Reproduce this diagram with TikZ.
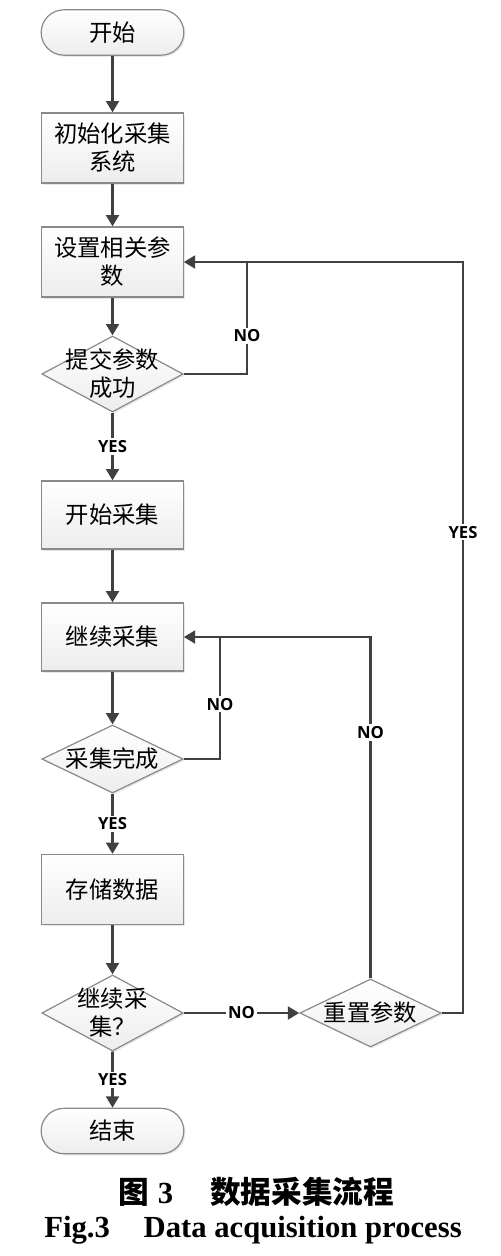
\documentclass[tikz,border=0pt]{standalone}
\usepackage{fontspec}
\setmainfont{Liberation Serif}
\newfontfamily\cjk{Noto Sans CJK SC}
\newfontfamily\lblfont{Open Sans}
\usetikzlibrary{arrows.meta,shapes.geometric,shapes.misc,shadows}

\definecolor{linegray}{HTML}{404040}
\definecolor{edgegray}{HTML}{8A8A8A}

\tikzset{
  base/.style={draw=edgegray, line width=0.9pt, top color=white, bottom color=gray!14,
    drop shadow={shadow xshift=1.2pt, shadow yshift=-1.2pt, fill=gray!35},
    font=\cjk\fontsize{17.5}{21}\selectfont, align=center, inner sep=0pt},
  term/.style={base, rounded rectangle, minimum width=107pt, minimum height=34pt},
  proc/.style={base, rectangle, minimum width=106pt, minimum height=52.5pt},
  decide/.style={base, diamond, minimum width=106pt, minimum height=57pt},
  dtext/.style={font=\cjk\fontsize{17.5}{21}\selectfont, align=center, inner sep=0pt},
  lbl/.style={fill=white, inner sep=1.5pt, font=\lblfont\bfseries\fontsize{12.5}{14}\selectfont},
  flow/.style={draw=linegray, line width=2.2pt}
}

\begin{document}
\begin{tikzpicture}[x=0.75pt, y=-0.75pt, >={Triangle[length=8.5pt,width=9.5pt]}]
\useasboundingbox (0,0) rectangle (500,1256);

% boxes
\node[term] (start) at (112.5,32.5) {开始};
\node[proc, minimum height=52.5pt] (init) at (112.5,148) {初始化采集\\系统};
\node[proc] (param) at (112.5,262) {设置相关参\\数};
\node[decide, label={[dtext]center:提交参数\\成功}] (submit) at (112.5,374) {};
\node[proc, minimum height=51pt] (begin) at (112.5,515) {开始采集};
\node[proc, minimum height=51pt] (cont) at (112.5,637) {继续采集};
\node[decide, minimum height=51pt, label={[dtext]center:采集完成}] (done) at (112.5,759) {};
\node[proc] (store) at (112.5,889.5) {存储数据};
\node[decide, label={[dtext]center:继续采\\集？}] (again) at (112.5,1013) {};
\node[decide, minimum height=51pt, label={[dtext]center:重置参数}] (reset) at (370.5,1013) {};
\node[term] (stop) at (112.5,1131) {结束};

\coordinate (j1) at (247,262);
\coordinate (j2) at (463,262);
\coordinate (j3) at (220,637);

% main flow
\draw[flow,->] (start) -- (init);
\draw[flow,->] (init) -- (param);
\draw[flow,->] (param) -- (submit);
\draw[flow,->] (submit) -- node[lbl]{YES} (begin);
\draw[flow,->] (begin) -- (cont);
\draw[flow,->] (cont) -- (done);
\draw[flow,->] (done) -- node[lbl]{YES} (store);
\draw[flow,->] (store) -- (again);
\draw[flow,->] (again) -- node[lbl]{YES} (stop);
\draw[flow,->] (again) -- node[lbl]{NO} (reset);

% loops
\draw[flow] (submit.east) -| node[lbl, pos=0.67]{NO} (j1);
\draw[flow,->] (reset.east) -| node[lbl, pos=0.82]{YES} (j2) -- (param.east);
\draw[flow] (done.east) -| node[lbl, pos=0.725]{NO} (j3);
\draw[flow,->] (reset.north) |- node[lbl, pos=0.36]{NO} (j3) -- (cont.east);

% caption
\node[font=\cjk\bfseries\fontsize{23}{26}\selectfont] (cap1) at (256,1192)
  {图\hspace{0.3em}{\fontspec{Liberation Serif}\bfseries 3}\hspace{1.2em}数据采集流程};
\node[font=\bfseries\fontsize{23}{26}\selectfont] (cap2) at (253,1230)
  {Fig.3\hspace{1.1em}Data acquisition process};
\end{tikzpicture}
\end{document}
